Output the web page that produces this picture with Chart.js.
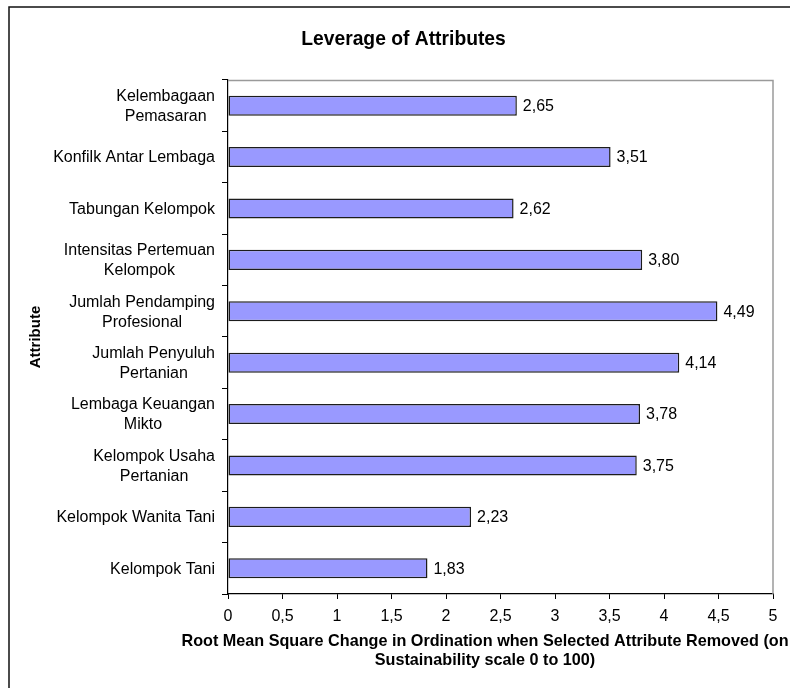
<!DOCTYPE html>
<html>
<head>
<meta charset="utf-8">
<title>Leverage of Attributes</title>
<script src="https://cdn.jsdelivr.net/npm/chart.js@4.4.1/dist/chart.umd.min.js"></script>
<style>
  html, body { margin: 0; padding: 0; background: #fff; }
  #wrap { width: 798px; height: 688px; }
</style>
</head>
<body>
<div id="wrap"><canvas id="leverage-chart" width="798" height="688"></canvas></div>
<script>
// Attribute names (top to bottom), split into the lines they are printed on
const attributes = [
    ["Kelembagaan", "Pemasaran"],
    ["Konfilk Antar Lembaga"],
    ["Tabungan Kelompok"],
    ["Intensitas Pertemuan", "Kelompok"],
    ["Jumlah Pendamping", "Profesional"],
    ["Jumlah Penyuluh", "Pertanian"],
    ["Lembaga Keuangan", "Mikto"],
    ["Kelompok Usaha", "Pertanian"],
    ["Kelompok Wanita Tani"],
    ["Kelompok Tani"]
];

// RMS change in ordination when the attribute is removed
const rmsChange = [2.65, 3.51, 2.62, 3.80, 4.49, 4.14, 3.78, 3.75, 2.23, 1.83];

// x axis range and step
const xMin = 0;
const xMax = 5;
const xStep = 0.5;

const chartTitle = "Leverage of Attributes";
const yTitle = "Attribute";
const xTitle = [
    "Root Mean Square Change in Ordination when Selected Attribute Removed (on",
    "Sustainability scale 0 to 100)"
];

const FONT = "'Liberation Sans', Arial, Helvetica, sans-serif";
Chart.defaults.font.family = FONT;
Chart.defaults.color = "#000";

// decimal comma, like the source workbook
function comma(value, digits) {
    let s = digits === undefined ? String(value) : value.toFixed(digits);
    return s.replace('.', ',');
}

// white page with the outer frame (left and top edges are inside the page)
const pageFrame = {
    id: 'pageFrame',
    beforeDraw(chart) {
        const ctx = chart.ctx;
        ctx.save();
        ctx.fillStyle = '#fff';
        ctx.fillRect(0, 0, chart.width, chart.height);
        ctx.strokeStyle = '#111';
        ctx.lineWidth = 1.5;
        ctx.beginPath();
        ctx.moveTo(9, chart.height);
        ctx.lineTo(9, 7);
        ctx.lineTo(790, 7);
        ctx.stroke();
        ctx.restore();
    }
};

// grey top and right edges of the plot area
const plotEdges = {
    id: 'plotEdges',
    beforeDatasetsDraw(chart) {
        const {ctx, chartArea: a} = chart;
        ctx.save();
        ctx.strokeStyle = '#9a9a9a';
        ctx.lineWidth = 1.5;
        ctx.beginPath();
        ctx.moveTo(a.left, a.top + 0.5);
        ctx.lineTo(a.right, a.top + 0.5);
        ctx.lineTo(a.right, a.bottom);
        ctx.stroke();
        ctx.restore();
    }
};

// category names: block right-aligned to the axis, lines centred in the block
const categoryLabels = {
    id: 'categoryLabels',
    afterDraw(chart) {
        const ctx = chart.ctx;
        const yScale = chart.scales.y;
        const lineGap = 20;
        ctx.save();
        ctx.font = '16px ' + FONT;
        ctx.fillStyle = '#000';
        ctx.textBaseline = 'middle';
        ctx.textAlign = 'center';
        attributes.forEach((lines, i) => {
            const yc = yScale.getPixelForValue(i);
            const blockWidth = Math.max(...lines.map(l => ctx.measureText(l).width));
            const xc = chart.chartArea.left - 13 - blockWidth / 2;
            lines.forEach((line, j) => {
                const y = yc + 1 + (j - (lines.length - 1) / 2) * lineGap;
                ctx.fillText(line, xc, y);
            });
        });
        ctx.restore();
    }
};

// value printed at the end of each bar
const valueLabels = {
    id: 'valueLabels',
    afterDatasetsDraw(chart) {
        const ctx = chart.ctx;
        const meta = chart.getDatasetMeta(0);
        ctx.save();
        ctx.font = '16px ' + FONT;
        ctx.fillStyle = '#000';
        ctx.textBaseline = 'middle';
        ctx.textAlign = 'left';
        meta.data.forEach((bar, i) => {
            ctx.fillText(comma(rmsChange[i], 2), bar.x + 6, bar.y + 1);
        });
        ctx.restore();
    }
};

// two-line x axis title
const xAxisTitle = {
    id: 'xAxisTitle',
    afterDraw(chart) {
        const ctx = chart.ctx;
        ctx.save();
        ctx.font = 'bold 16.2px ' + FONT;
        ctx.fillStyle = '#000';
        ctx.textAlign = 'center';
        ctx.textBaseline = 'alphabetic';
        ctx.fillText(xTitle[0], 485, 646);
        ctx.fillText(xTitle[1], 485, 665);
        ctx.restore();
    }
};

const ctx = document.getElementById('leverage-chart').getContext('2d');
new Chart(ctx, {
    type: 'bar',
    data: {
        labels: attributes,
        datasets: [{
            data: rmsChange,
            backgroundColor: '#9999ff',
            borderColor: '#1c1c1c',
            borderWidth: 1.5,
            borderSkipped: false,
            categoryPercentage: 1,
            barPercentage: 0.39
        }]
    },
    options: {
        indexAxis: 'y',
        responsive: false,
        animation: false,
        events: [],
        layout: {
            padding: { left: 34, right: 25, top: 0, bottom: 0 }
        },
        plugins: {
            legend: { display: false },
            tooltip: { enabled: false },
            title: {
                display: true,
                text: chartTitle,
                font: { size: 19.3, weight: 'bold' },
                color: '#000',
                padding: { top: 28.5, bottom: 28.3 }
            }
        },
        scales: {
            x: {
                type: 'linear',
                min: xMin,
                max: xMax,
                ticks: {
                    stepSize: xStep,
                    font: { size: 16 },
                    color: '#000',
                    padding: 8,
                    callback: (v) => comma(v)
                },
                grid: {
                    drawOnChartArea: false,
                    drawTicks: true,
                    tickLength: 5,
                    color: '#000'
                },
                border: { display: true, color: '#000', width: 1.2 },
                afterFit(scale) { scale.height = 94; }
            },
            y: {
                type: 'category',
                ticks: { display: false },
                grid: {
                    offset: true,
                    drawOnChartArea: false,
                    drawTicks: true,
                    tickLength: 6,
                    color: '#000'
                },
                border: { display: true, color: '#000', width: 1.2 },
                title: {
                    display: true,
                    text: yTitle,
                    font: { size: 15, weight: 'bold' },
                    color: '#000',
                    padding: { top: -7.5, bottom: 0 }
                },
                afterFit(scale) { scale.width = 194; }
            }
        }
    },
    plugins: [pageFrame, plotEdges, categoryLabels, valueLabels, xAxisTitle]
});
</script>
</body>
</html>
